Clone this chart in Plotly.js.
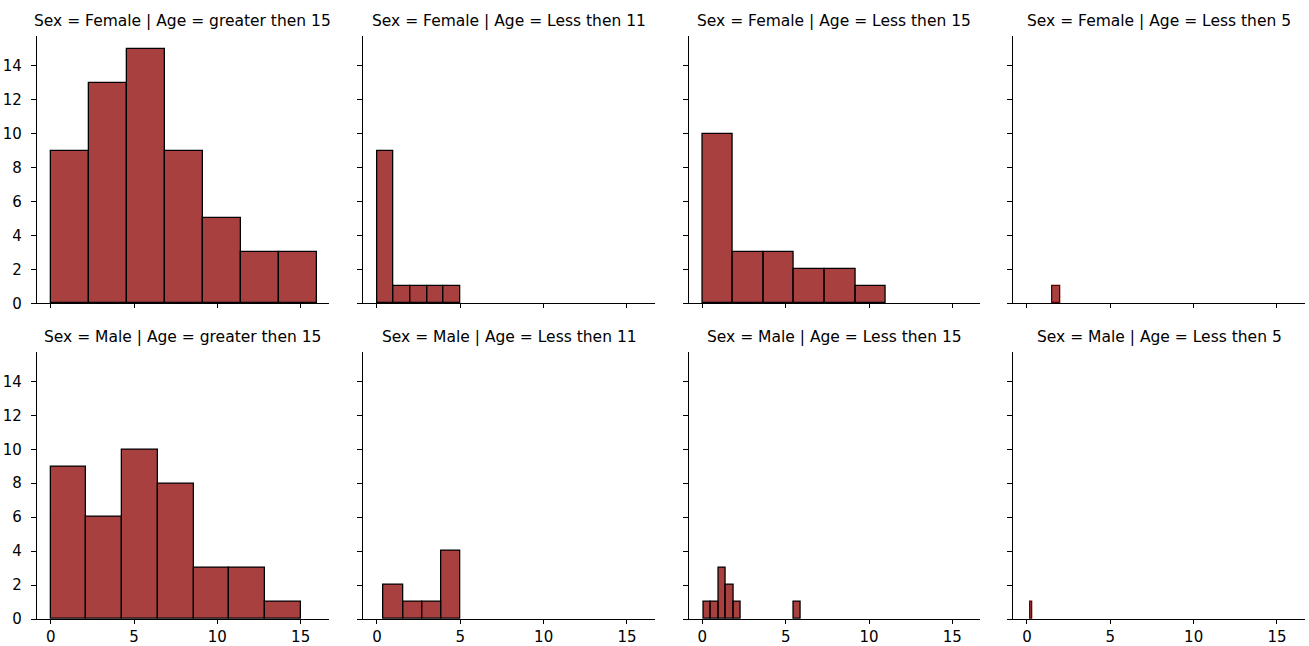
<!DOCTYPE html>
<html><head><meta charset="utf-8">
<script src="https://cdn.plot.ly/plotly-3.0.1.min.js"></script>
<style>html,body{margin:0;padding:0;background:#fff}#chart{width:1309px;height:646px}</style>
</head><body><div id="chart"></div>
<script>
// Facet labels
const sexes = ["Female", "Male"];
const ageGroups = ["greater then 15", "Less then 11", "Less then 15", "Less then 5"];

// Histogram bin edges and counts, one pair per facet
const femaleGt15Edges = [0, 2.29, 4.57, 6.86, 9.14, 11.43, 13.71, 16];
const femaleGt15Counts = [9, 13, 15, 9, 5, 3, 3];
const femaleLt11Edges = [0, 1, 2, 3, 4, 5];
const femaleLt11Counts = [9, 1, 1, 1, 1];
const femaleLt15Edges = [0, 1.83, 3.67, 5.5, 7.33, 9.17, 11];
const femaleLt15Counts = [10, 3, 3, 2, 2, 1];
const femaleLt5Edges = [1.5, 2.0];
const femaleLt5Counts = [1];

const maleGt15Edges = [0, 2.14, 4.29, 6.43, 8.57, 10.71, 12.86, 15];
const maleGt15Counts = [9, 6, 10, 8, 3, 3, 1];
const maleLt11Edges = [0.4, 1.55, 2.7, 3.85, 5.0];
const maleLt11Counts = [2, 1, 1, 4];
const maleLt15Edges = [0.06, 0.51, 0.96, 1.41, 1.86, 2.31, 5.46, 5.91];
const maleLt15Counts = [1, 1, 3, 2, 1, 1];
const maleLt5Edges = [0.17, 0.33];
const maleLt5Counts = [1];

// Axis tick labels
const xTicks = [0, 5, 10, 15];
const yTicks = [0, 2, 4, 6, 8, 10, 12, 14];

const facets = [
  {edges: femaleGt15Edges, counts: femaleGt15Counts},
  {edges: femaleLt11Edges, counts: femaleLt11Counts},
  {edges: femaleLt15Edges, counts: femaleLt15Counts},
  {edges: femaleLt5Edges, counts: femaleLt5Counts, lineColor: "#5a0000"},
  {edges: maleGt15Edges, counts: maleGt15Counts},
  {edges: maleLt11Edges, counts: maleLt11Counts},
  {edges: maleLt15Edges, counts: maleLt15Counts, pairs: [[0,1],[1,2],[2,3],[3,4],[4,5],[6,7]]},
  {edges: maleLt5Edges, counts: maleLt5Counts, lineColor: "#6a0000"}
];

const W = 1309, H = 646;
const colLeft = [37, 363.3, 688.7, 1013.3];
const plotW = 291.5;
const rowTop = [36, 351.7];
const plotH = 267.3;

const traces = [];
const layout = {
  width: W, height: H,
  margin: {l: 0, r: 0, t: 0, b: 0},
  paper_bgcolor: "#fff", plot_bgcolor: "#fff",
  showlegend: false,
  bargap: 0,
  font: {family: "DejaVu Sans, sans-serif", color: "#000"},
  annotations: []
};

facets.forEach((f, i) => {
  const r = Math.floor(i / 4), c = i % 4;
  const n = i + 1;
  const xs = [], ws = [], ys = [];
  const pairs = f.pairs || f.counts.map((_, k) => [k, k + 1]);
  pairs.forEach((p, k) => {
    const a = f.edges[p[0]], b = f.edges[p[1]];
    xs.push((a + b) / 2); ws.push(b - a); ys.push(f.counts[k]);
  });
  traces.push({
    type: "bar", x: xs, y: ys, width: ws,
    xaxis: "x" + (n === 1 ? "" : n), yaxis: "y" + (n === 1 ? "" : n),
    marker: {color: "rgba(139,0,0,0.75)", line: {color: f.lineColor || "#000", width: 1.3}},
    hoverinfo: "x+y"
  });
  const xd = [colLeft[c] / W, (colLeft[c] + plotW) / W];
  const yd = [(H - rowTop[r] - plotH) / H, (H - rowTop[r]) / H];
  const key = n === 1 ? "" : n;
  layout["xaxis" + key] = {
    domain: xd, anchor: "y" + key, range: [-0.82, 16.67],
    tickvals: xTicks, ticktext: r === 1 ? xTicks.map(String) : xTicks.map(() => ""),
    ticks: "outside", ticklen: 4, tickwidth: 1.1, tickcolor: "#000",
    showline: true, linecolor: "#000", linewidth: 1.2,
    showgrid: false, zeroline: false, fixedrange: true,
    ticklabelstandoff: 0,
    tickfont: {size: 15, color: "#000", family: "DejaVu Sans"}
  };
  layout["yaxis" + key] = {
    domain: yd, anchor: "x" + key, range: [0, 15.75],
    tickvals: yTicks, ticktext: c === 0 ? yTicks.map(String) : yTicks.map(() => ""),
    ticks: "outside", ticklen: 5, tickwidth: 1.1, tickcolor: "#000",
    showline: true, linecolor: "#000", linewidth: 1.2,
    showgrid: false, zeroline: false, fixedrange: true,
    ticklabelstandoff: 6,
    tickfont: {size: 15, color: "#000", family: "DejaVu Sans"}
  };
  layout.annotations.push({
    text: "Sex = " + sexes[r] + " | Age = " + ageGroups[c],
    xref: "paper", yref: "paper",
    x: (xd[0] + xd[1]) / 2, y: yd[1],
    xanchor: "center", yanchor: "bottom", yshift: 4,
    showarrow: false,
    font: {size: 15.5, color: "#000", family: "DejaVu Sans"}
  });
});

Plotly.newPlot("chart", traces, layout, {displayModeBar: false});
</script>
</body></html>
